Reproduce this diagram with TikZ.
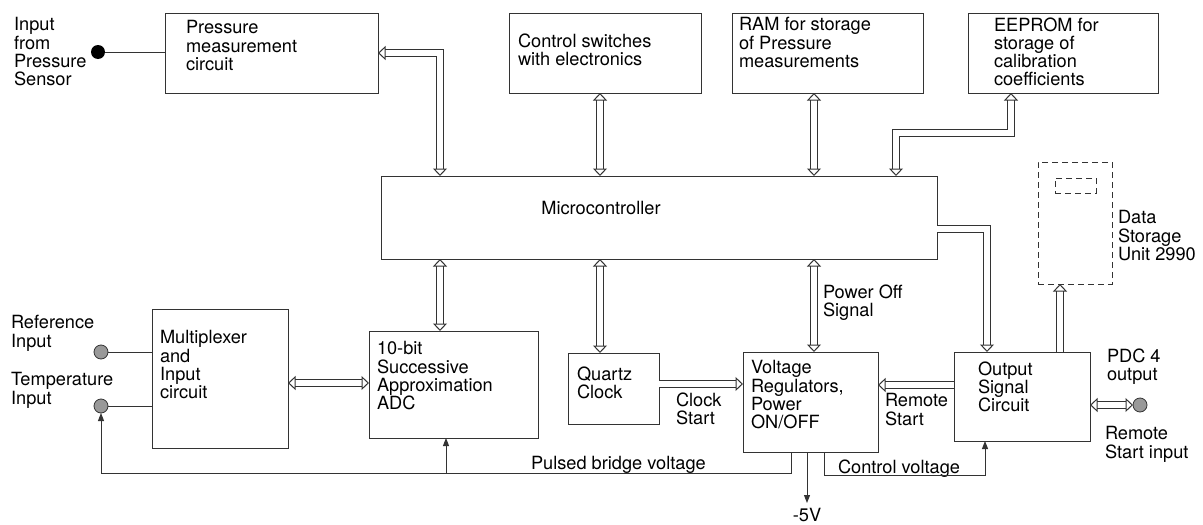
\documentclass[tikz,border=0pt]{standalone}
\usepackage{fontspec}
\setmainfont{TeX Gyre Heros}
\usetikzlibrary{arrows.meta}
\definecolor{lc}{HTML}{333333}
\newcommand\fs{\fontsize{18.2}{18.3}\selectfont}
\begin{document}
\begin{tikzpicture}[x=1pt,y=-1pt,
  every node/.style={inner sep=0pt, outer sep=0pt},
  box/.style={draw=lc, line width=1pt, rectangle, anchor=north west},
  dbox/.style={box, dash pattern=on 6pt off 4pt},
  txt/.style={anchor=north west, align=left, font=\fs, text=black},
  dbl/.style={draw=lc, line width=1.1pt, double=white, double distance=5.8pt},
  sl/.style={draw=lc, line width=1pt},
  ot/.tip={Triangle[open,length=7.5pt,width=14pt,line width'=1pt]},
  sa/.tip={Triangle[length=8pt,width=6pt]},
  jack/.style={circle, draw=lc, line width=0.8pt, fill=black!40, minimum size=14pt},
]
\useasboundingbox (0,0) rectangle (1203,525);

% boxes
\node[box, minimum width=213, minimum height=80] (press) at (165,13) {};
\node[box, minimum width=192, minimum height=80] (ctrl) at (509,13) {};
\node[box, minimum width=191, minimum height=80] (ram) at (732,13) {};
\node[box, minimum width=190, minimum height=80] (eeprom) at (968,13) {};
\node[box, minimum width=556, minimum height=83] (micro) at (381,176) {};
\node[box, minimum width=136, minimum height=139] (mux) at (152,309) {};
\node[box, minimum width=169, minimum height=107] (adc) at (369,331) {};
\node[box, minimum width=91, minimum height=71] (quartz) at (568,353) {};
\node[box, minimum width=135, minimum height=100] (vr) at (743,352) {};
\node[box, minimum width=136, minimum height=89] (out) at (954,352) {};
\node[dbox, minimum width=74, minimum height=122] (data) at (1038,162) {};
\node[dbox, minimum width=41, minimum height=15] (datain) at (1055,178) {};

% terminals
\node[circle, fill=black, minimum size=14pt] (pdot) at (98,52) {};
\node[jack] (refc) at (101,352) {};
\node[jack] (tempc) at (101,406) {};
\node[jack] (pdc) at (1140,405) {};

% texts
\node[txt] (tin) at (14,17.5) {Input\\from\\Pressure\\Sensor};
\node[txt] (tpress) at (186,20.5) {Pressure\\measurement\\circuit};
\node[txt] (tctrl) at (518,33.5) {Control switches\\with electronics};
\node[txt] (tram) at (739,17.5) {RAM for storage\\of Pressure\\measurements};
\node[txt] (teep) at (994,17.5) {EEPROM for\\storage of\\calibration\\coefficients};
\node[font=\fs] (tmicro) at (601,208) {Microcontroller};
\node[txt] (tdata) at (1118,210.5) {Data\\Storage\\Unit 2990};
\node[txt] (tref) at (11,315.5) {Reference\\Input};
\node[txt] (ttemp) at (11,372.5) {Temperature\\Input};
\node[txt] (tmux) at (160,330.5) {Multiplexer\\and\\Input\\circuit};
\node[txt] (tadc) at (377,341.5) {10-bit\\Successive\\Approximation\\ADC};
\node[txt] (tquartz) at (577,366.5) {Quartz\\Clock};
\node[txt] (tclk) at (676,392.5) {Clock\\Start};
\node[txt] (tvr) at (751,360.5) {Voltage\\Regulators,\\Power\\ON/OFF};
\node[txt] (tpow) at (823,284.5) {Power Off\\Signal};
\node[txt] (trem) at (885,393.5) {Remote\\Start};
\node[txt] (tout) at (978,361.5) {Output\\Signal\\Circuit};
\node[txt] (tpdc) at (1107,348.5) {PDC 4\\output};
\node[txt] (trsi) at (1105,426.5) {Remote\\Start input};
\node[txt] (tpul) at (531,456.5) {Pulsed bridge voltage};
\node[txt] (tcv) at (838,459.5) {Control voltage};
\node[font=\fs] (m5) at (807,515) {-5V};

% helper coordinates
\coordinate (xA) at (440,0);
\coordinate (xB) at (600,0);
\coordinate (xC) at (814,0);
\coordinate (xD) at (896,0);
\coordinate (ebend) at (1011,133);
\coordinate (yR) at (0,229);
\coordinate (xF) at (987,0);
\coordinate (xG) at (1060,0);
\coordinate (ymux) at (0,383);
\coordinate (yclk) at (0,384);
\coordinate (yrem) at (0,385);
\coordinate (xP) at (791,0);
\coordinate (yPB) at (0,473);
\coordinate (xQ) at (446,0);
\coordinate (xH) at (824,0);
\coordinate (cvend) at (985,475);
\coordinate (m5end) at (807,503);

% plain wires
\draw[sl] (pdot) -- (pdot -| press.west);
\draw[sl] (refc) -- (refc -| mux.west);
\draw[sl] (tempc) -- (tempc -| mux.west);

% double (bus) arrows
\draw[dbl, {ot}-{ot}] (micro.north -| xA) |- (press.east);
\draw[dbl, {ot}-{ot}] (micro.north -| xB) -- (ctrl.south -| xB);
\draw[dbl, {ot}-{ot}] (micro.north -| xC) -- (ram.south -| xC);
\draw[dbl, {ot}-{ot}] (micro.north -| xD) |- (ebend) -- (eeprom.south -| ebend);
\draw[dbl, -{ot}] (micro.east |- yR) -| (out.north -| xF);
\draw[dbl, {ot}-{ot}] (micro.south -| xA) -- (adc.north -| xA);
\draw[dbl, {ot}-{ot}] (micro.south -| xB) -- (quartz.north -| xB);
\draw[dbl, {ot}-{ot}] (micro.south -| xC) -- (vr.north -| xC);
\draw[dbl, {ot}-{ot}] (mux.east |- ymux) -- (adc.west |- ymux);
\draw[dbl, -{ot}] (quartz.east |- yclk) -- (vr.west |- yclk);
\draw[dbl, -{ot}] (out.west |- yrem) -- (vr.east |- yrem);
\draw[dbl, -{ot}] (out.north -| xG) -- (data.south -| xG);
\draw[dbl, {ot}-{ot}] (out.east |- pdc) -- (pdc.west);

% single-line arrows
\draw[sl, -{sa}] (vr.south -| xP) |- (yPB -| tempc) -- (tempc.south);
\draw[sl, -{sa}] (yPB -| xQ) -- (adc.south -| xQ);
\draw[sl, -{sa}] (vr.south -| m5end) -- (m5end);
\draw[sl, -{sa}] (vr.south -| xH) |- (cvend) -- (out.south -| cvend);
\end{tikzpicture}
\end{document}
